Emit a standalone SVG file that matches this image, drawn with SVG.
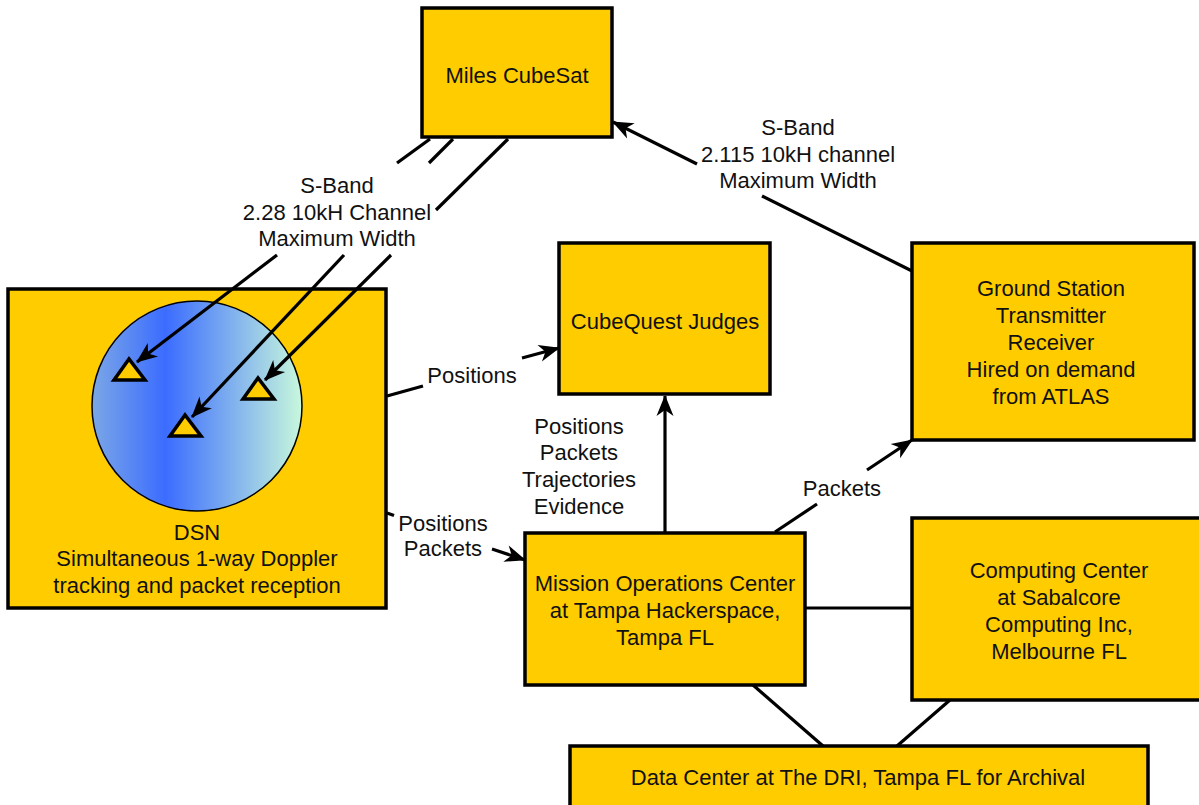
<svg xmlns="http://www.w3.org/2000/svg" width="1199" height="805" viewBox="0 0 1199 805">
<style>
.box{fill:#FFCC00;stroke:#000;stroke-width:3.5}
.t{font-family:"Liberation Sans",Arial,sans-serif;font-size:22px;fill:#111;text-anchor:middle}
.c{stroke:#000;stroke-width:3.2;fill:none}
.tri{fill:#FFCC00;stroke:#000;stroke-width:3.5;stroke-linejoin:miter}
</style>
<defs>
<marker id="arr" markerUnits="userSpaceOnUse" viewBox="-22 -10 24 20" refX="0" refY="0" markerWidth="24" markerHeight="20" orient="auto">
<path d="M1,0 L-20,-8.5 L-14,0 L-20,8.5 Z" fill="#000"/>
</marker>
<linearGradient id="g" x1="0" y1="0" x2="1" y2="0">
<stop offset="0" stop-color="#7ba7e6"/>
<stop offset="0.35" stop-color="#3b6cff"/>
<stop offset="1" stop-color="#c8f8dc"/>
</linearGradient>
</defs>
<rect width="1199" height="805" fill="#fff"/>

<g id="miles-cubesat">
<rect class="box" x="422" y="8" width="190" height="129"/>
<text class="t" x="517" y="83">Miles CubeSat</text>
</g>

<g id="dsn">
<rect class="box" x="8" y="289" width="378" height="319"/>
<circle cx="197" cy="406" r="105" fill="url(#g)" stroke="#000" stroke-width="1.5"/>
<polygon class="tri" points="129,359 114,380 145,380"/>
<polygon class="tri" points="185,415 170,436 201,436"/>
<polygon class="tri" points="258,378 243,399 274,399"/>
<text class="t" x="197" y="540">DSN</text>
<text class="t" x="197" y="566">Simultaneous 1-way Doppler</text>
<text class="t" x="197" y="593">tracking and packet reception</text>
</g>

<g id="cubequest-judges">
<rect class="box" x="559" y="243" width="211" height="151"/>
<text class="t" x="665" y="329">CubeQuest Judges</text>
</g>

<g id="ground-station">
<rect class="box" x="912" y="243" width="282" height="197"/>
<text class="t" x="1051" y="296">Ground Station</text>
<text class="t" x="1051" y="323">Transmitter</text>
<text class="t" x="1051" y="350">Receiver</text>
<text class="t" x="1051" y="377">Hired on demand</text>
<text class="t" x="1051" y="404">from ATLAS</text>
</g>

<g id="mission-operations">
<rect class="box" x="525" y="533" width="280" height="152"/>
<text class="t" x="665" y="591">Mission Operations Center</text>
<text class="t" x="665" y="618">at Tampa Hackerspace,</text>
<text class="t" x="665" y="645">Tampa FL</text>
</g>

<g id="computing-center">
<rect class="box" x="912" y="518" width="292" height="182"/>
<text class="t" x="1059" y="578">Computing Center</text>
<text class="t" x="1059" y="605">at Sabalcore</text>
<text class="t" x="1059" y="632">Computing Inc,</text>
<text class="t" x="1059" y="659">Melbourne FL</text>
</g>

<g id="data-center">
<rect class="box" x="570" y="746" width="578" height="64"/>
<text class="t" x="858" y="785">Data Center at The DRI, Tampa FL for Archival</text>
</g>

<g id="connectors">
<!-- CubeSat to DSN stations -->
<line class="c" x1="430" y1="139" x2="397" y2="163"/>
<line class="c" x1="277" y1="255" x2="137" y2="362" marker-end="url(#arr)"/>
<line class="c" x1="453" y1="139" x2="429" y2="163"/>
<line class="c" x1="344" y1="255" x2="192" y2="417" marker-end="url(#arr)"/>
<line class="c" x1="508" y1="139" x2="436" y2="210"/>
<line class="c" x1="391" y1="255" x2="265" y2="380" marker-end="url(#arr)"/>
<!-- Ground station uplink -->
<line class="c" x1="912" y1="271" x2="762" y2="196"/>
<line class="c" x1="697" y1="164" x2="613" y2="122" marker-end="url(#arr)"/>
<!-- DSN to Judges -->
<line class="c" x1="387" y1="396" x2="423" y2="386"/>
<line class="c" x1="522" y1="358" x2="559" y2="348" marker-end="url(#arr)"/>
<!-- DSN to MOC -->
<line class="c" x1="387" y1="513" x2="394" y2="515.5"/>
<line class="c" x1="492" y1="549" x2="525" y2="560" marker-end="url(#arr)"/>
<!-- MOC to Judges -->
<line class="c" x1="665" y1="533" x2="665" y2="396" marker-end="url(#arr)"/>
<!-- MOC to Ground Station -->
<line class="c" x1="775" y1="532" x2="817" y2="504"/>
<line class="c" x1="867" y1="470" x2="912" y2="440" marker-end="url(#arr)"/>
<!-- MOC to Computing -->
<line class="c" x1="805" y1="608" x2="912" y2="608"/>
<!-- MOC to Data Center -->
<line class="c" x1="753" y1="685" x2="823" y2="746"/>
<!-- Computing to Data Center -->
<line class="c" x1="950" y1="700" x2="897" y2="746"/>
</g>

<g id="labels">
<text class="t" x="337" y="193">S-Band</text>
<text class="t" x="337" y="220">2.28 10kH Channel</text>
<text class="t" x="337" y="246">Maximum Width</text>
<text class="t" x="798" y="135">S-Band</text>
<text class="t" x="798" y="162">2.115 10kH channel</text>
<text class="t" x="798" y="188">Maximum Width</text>
<text class="t" x="472" y="383">Positions</text>
<text class="t" x="443" y="531">Positions</text>
<text class="t" x="443" y="556">Packets</text>
<text class="t" x="579" y="434">Positions</text>
<text class="t" x="579" y="460">Packets</text>
<text class="t" x="579" y="487">Trajectories</text>
<text class="t" x="579" y="514">Evidence</text>
<text class="t" x="842" y="496">Packets</text>
</g>
</svg>
